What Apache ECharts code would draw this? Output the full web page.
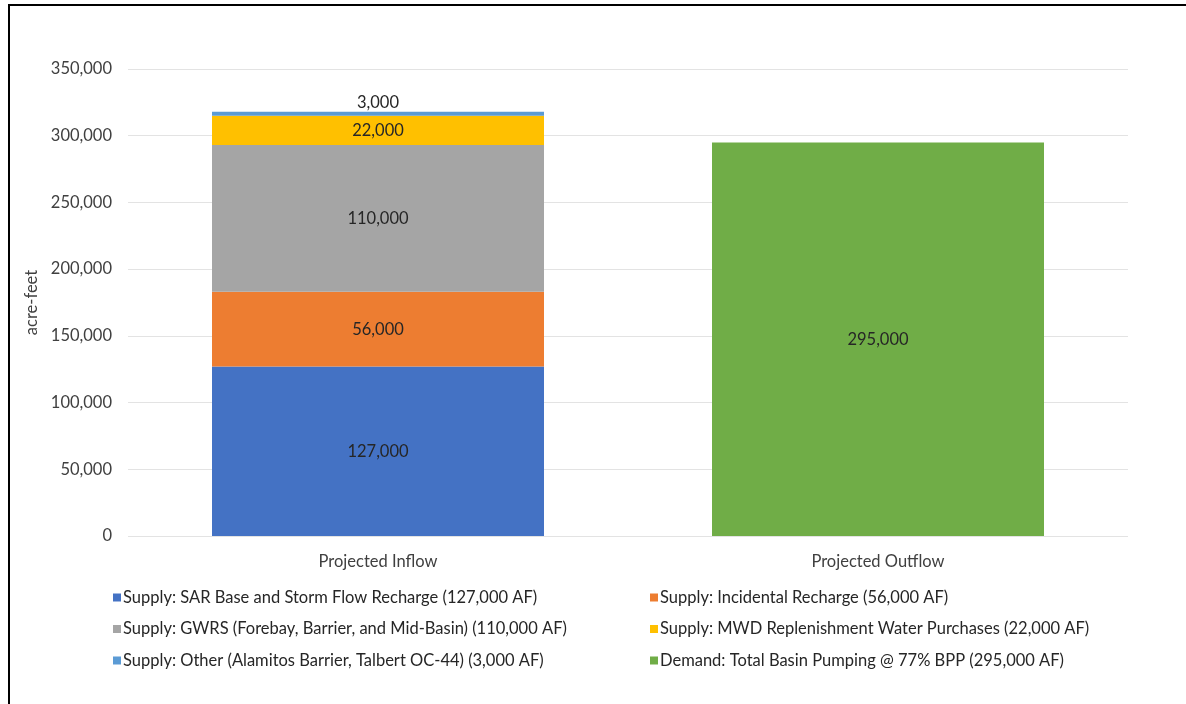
<!DOCTYPE html>
<html>
<head>
<meta charset="utf-8">
<script src="https://cdn.jsdelivr.net/npm/echarts@6/dist/echarts.min.js"></script>
<style>
  html, body { margin: 0; padding: 0; background: #fff; }
  #chart { width: 1186px; height: 704px; }
  #frame {
    position: absolute; left: 8px; top: 4px; right: 0; bottom: 0;
    border-top: 2px solid #000; border-left: 2px solid #000;
    pointer-events: none;
  }
</style>
</head>
<body>
<div id="chart"></div>
<div id="frame"></div>
<script>
// Basin water budget: projected inflow (stacked supply sources) vs. projected outflow
const categories = ['Projected Inflow', 'Projected Outflow'];

const sarRecharge   = [127000, '-'];
const incidental    = [56000, '-'];
const gwrs          = [110000, '-'];
const mwdPurchases  = [22000, '-'];
const otherSupply   = [3000, '-'];
const basinPumping  = ['-', 295000];

const seriesNames = [
  'Supply: SAR Base and Storm Flow Recharge (127,000 AF)',
  'Supply: Incidental Recharge (56,000 AF)',
  'Supply: GWRS (Forebay, Barrier, and Mid-Basin) (110,000 AF)',
  'Supply: MWD Replenishment Water Purchases (22,000 AF)',
  'Supply: Other (Alamitos Barrier, Talbert OC-44) (3,000 AF)',
  'Demand: Total Basin Pumping @ 77% BPP (295,000 AF)'
];

const yTicks = { min: 0, max: 350000, interval: 50000 };

const FONT = 'Lato';
const FS = 16.5;
const fmt = v => Number(v).toLocaleString('en-US');

const labelStyle = (pos) => ({
  show: true,
  position: pos || 'inside',
  distance: 1,
  formatter: p => fmt(p.value),
  color: '#262626',
  fontFamily: FONT,
  fontSize: FS
});

function stackBar(name, data, color, labelPos) {
  return {
    name, type: 'bar', stack: 'flow', data,
    barWidth: 332,
    itemStyle: { color },
    label: labelStyle(labelPos),
    emphasis: { disabled: true }
  };
}

const legendBase = {
  orient: 'vertical', top: 584,
  itemWidth: 8, itemHeight: 8, itemGap: 14.5, icon: 'rect',
  textStyle: { color: '#262626', fontSize: FS, fontFamily: FONT, padding: [0, 0, 0, -3] }
};

const chart = echarts.init(document.getElementById('chart'), null, { renderer: 'canvas' });

chart.setOption({
  animation: false,
  backgroundColor: '#fff',
  textStyle: { fontFamily: FONT },
  grid: { left: 128, right: 58, top: 69, bottom: 168, outerBoundsMode: 'none', containLabel: false },
  xAxis: {
    type: 'category',
    data: categories,
    axisLine: { show: false },
    axisTick: { show: false },
    axisLabel: { color: '#404040', fontSize: FS, fontFamily: FONT, margin: 17 }
  },
  yAxis: {
    type: 'value',
    min: yTicks.min, max: yTicks.max, interval: yTicks.interval,
    name: 'acre-feet',
    nameLocation: 'middle',
    nameGap: 76,
    nameTextStyle: { color: '#404040', fontSize: FS, fontFamily: FONT },
    axisLine: { show: false },
    axisTick: { show: false },
    axisLabel: { color: '#404040', fontSize: FS, fontFamily: FONT, formatter: v => fmt(v), margin: 16 },
    splitLine: { lineStyle: { color: '#e3e3e3', width: 1 } }
  },
  legend: [
    Object.assign({}, legendBase, { left: 108, data: [seriesNames[0], seriesNames[2], seriesNames[4]] }),
    Object.assign({}, legendBase, { left: 645, data: [seriesNames[1], seriesNames[3], seriesNames[5]] })
  ],
  series: [
    stackBar(seriesNames[0], sarRecharge, '#4472C4'),
    stackBar(seriesNames[1], incidental, '#ED7D31'),
    stackBar(seriesNames[2], gwrs, '#A5A5A5'),
    stackBar(seriesNames[3], mwdPurchases, '#FFC000'),
    stackBar(seriesNames[4], otherSupply, '#5B9BD5', 'top'),
    stackBar(seriesNames[5], basinPumping, '#70AD47')
  ]
});
</script>
</body>
</html>
